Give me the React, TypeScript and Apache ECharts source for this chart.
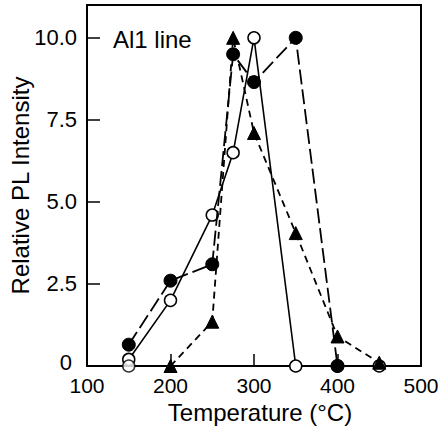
import React, { useEffect, useRef } from "react";
import * as echarts from "echarts";

const temps = [150, 200, 250, 275, 300, 350, 400, 450];
const filledCircle = [0.65, 2.6, 3.1, 9.5, 8.65, 10.0, 0, null];
const openCircle = [0.2, 2.0, 4.6, 6.5, 10.0, 0, 0, 0];
const triangle = [null, 0, 1.35, 10.0, 7.1, 4.05, 0.9, 0.1];
const extraOpenTemps = [150];
const extraOpenValues = [0];
const yTickLabels = ["0", "2.5", "5.0", "7.5", "10.0"];
const panelLabel = "Al1 line";

const pairs = (xs: number[], ys: (number | null)[]) =>
  xs.map((x, i) => [x, ys[i]]).filter((p) => p[1] !== null && p[1] !== undefined);

const FONT = "Liberation Sans";

export default function App() {
  const ref = useRef<HTMLDivElement>(null);
  useEffect(() => {
    if (!ref.current) return;
    const chart = echarts.init(ref.current, undefined, { renderer: "svg" });
    chart.setOption({
      animation: false,
      backgroundColor: "#ffffff",
      grid: {
        left: 87,
        right: 21,
        top: 5,
        bottom: 63,
        containLabel: false,
        outerBoundsMode: "none",
        show: true,
        borderColor: "#000",
        borderWidth: 2,
        backgroundColor: "transparent",
      },
      xAxis: {
        type: "value",
        min: 100,
        max: 500,
        interval: 100,
        name: "Temperature (°C)",
        nameLocation: "middle",
        nameGap: 34,
        nameMoveOverlap: false,
        nameTextStyle: { fontFamily: FONT, fontSize: 24, color: "#000", padding: [0, 0, 0, 12] },
        axisLine: { show: true, onZero: false, lineStyle: { color: "#000", width: 2 } },
        axisTick: { show: true, inside: true, length: 12, lineStyle: { color: "#000", width: 1.5 } },
        axisLabel: { fontFamily: FONT, fontSize: 21, color: "#000", margin: 9 },
        splitLine: { show: false },
      },
      yAxis: {
        type: "value",
        min: 0,
        max: 11,
        interval: 2.5,
        name: "Relative PL Intensity",
        nameLocation: "middle",
        nameGap: 55,
        nameMoveOverlap: false,
        nameTextStyle: { fontFamily: FONT, fontSize: 24, color: "#000" },
        axisLine: { show: true, lineStyle: { color: "#000", width: 2 } },
        axisTick: { show: true, inside: true, length: 13, lineStyle: { color: "#000", width: 1.5 } },
        axisLabel: {
          fontFamily: FONT,
          fontSize: 22,
          color: "#000",
          margin: 10,
          showMaxLabel: false,
          rich: {
            z: { fontFamily: FONT, fontSize: 22, color: "#000", padding: [0, 5, 7, 0] },
          },
          formatter: (v: number) => {
            const idx = Math.round(v / 2.5);
            if (Math.abs(idx * 2.5 - v) > 1e-6 || idx >= yTickLabels.length) return "";
            if (idx === 0) return "{z|" + yTickLabels[0] + "}";
            return yTickLabels[idx];
          },
        },
        splitLine: { show: false },
      },
      graphic: [
        {
          type: "text",
          left: 113,
          top: 27,
          style: { text: panelLabel, fontFamily: FONT, fontSize: 24, fill: "#000" },
        },
      ],
      series: [
        {
          type: "line",
          name: "triangle",
          data: pairs(temps, triangle),
          symbol: "triangle",
          symbolSize: 13,
          itemStyle: { color: "#000", borderColor: "#000" },
          lineStyle: { color: "#000", width: 1.8, type: [7, 5] },
          z: 4,
        },
        {
          type: "line",
          name: "open",
          data: pairs(temps, openCircle),
          symbol: "circle",
          symbolSize: 12,
          showAllSymbol: true,
          itemStyle: { color: "#fff", borderColor: "#000", borderWidth: 1.5 },
          lineStyle: { color: "#000", width: 1.6, type: "solid" },
          z: 3,
        },
        {
          type: "scatter",
          name: "open-extra",
          data: pairs(extraOpenTemps, extraOpenValues),
          symbol: "circle",
          symbolSize: 12,
          itemStyle: { color: "#fff", borderColor: "#000", borderWidth: 1.5 },
          z: 3,
        },
        {
          type: "line",
          name: "filled",
          data: pairs(temps, filledCircle),
          symbol: "circle",
          symbolSize: 13,
          itemStyle: { color: "#000", borderColor: "#000" },
          lineStyle: { color: "#000", width: 1.8, type: [15, 5] },
          z: 5,
        },
      ],
    });
    return () => chart.dispose();
  }, []);
  return <div ref={ref} style={{ width: 442, height: 429, position: "absolute", left: 0, top: 0 }} />;
}
